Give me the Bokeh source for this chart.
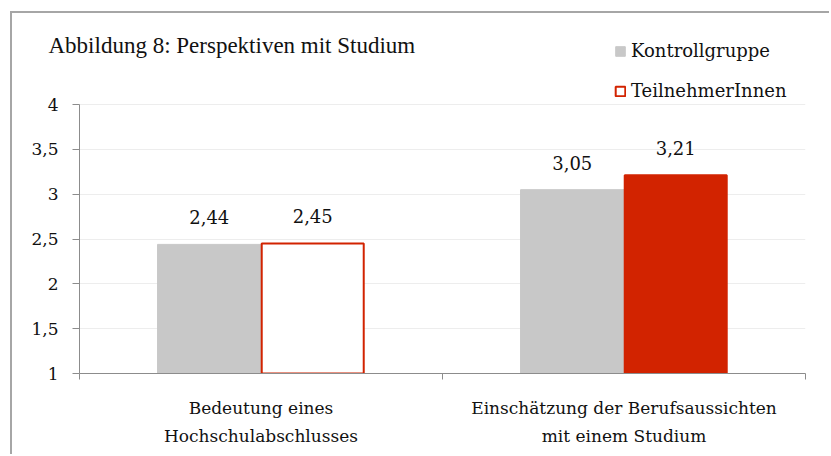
from bokeh.plotting import figure
from bokeh.models import (Range1d, FixedTicker, ColumnDataSource, LabelSet,
                          Legend, LegendItem)
from bokeh.core.properties import value
from bokeh.embed import file_html
from bokeh.resources import INLINE
import numpy as np

categories = ["Bedeutung eines\nHochschulabschlusses",
              "Einschätzung der Berufsaussichten\nmit einem Studium"]
kontroll = [2.44, 3.05]
teilnehmer = [2.45, 3.21]
series_names = ["Kontrollgruppe", "TeilnehmerInnen"]
y_ticks = [1, 1.5, 2, 2.5, 3, 3.5, 4]
y_tick_labels = ["1", "1,5", "2", "2,5", "3", "3,5", "4"]

TITLE_FONT = "'Liberation Serif'"
FONT = "DejaVu Serif"
GRAY = "#c8c8c8"
RED = "#d22300"
AXIS = "#8c8c8c"
TXT = "#111111"

def fmt(v):
    return f"{v:.2f}".replace(".", ",")

n = len(categories)
centers = np.arange(n) + 0.5
bw = 0.285

W, H = 819, 443
MB_L, MB_R, MB_T, MB_B = 67, 26, 7, 83
frame_h = H - MB_T - MB_B
axis_px = 269  # pixel height of the value axis 1..4
y_top = y_ticks[0] + (y_ticks[-1] - y_ticks[0]) * frame_h / axis_px

p = figure(width=W, height=H, output_backend="svg", toolbar_location=None,
           x_range=Range1d(0, n), y_range=Range1d(y_ticks[0], y_top),
           min_border_left=MB_L, min_border_right=MB_R, min_border_top=MB_T,
           min_border_bottom=MB_B,
           title="Abbildung 8: Perspektiven mit Studium")
p.styles = {"margin-left": "10px", "margin-top": "11px",
            "border-left": "2px solid #a6a6a6", "border-top": "2px solid #a6a6a6"}
p.outline_line_color = None
p.background_fill_color = "white"
p.border_fill_color = "white"

p.title.text_font = TITLE_FONT
p.title.text_font_size = "23px"
p.title.text_font_style = "normal"
p.title.text_color = TXT
p.title.align = "left"
p.title.offset = -31
p.title.standoff = -75

src_k = ColumnDataSource(dict(x=centers - bw / 2, top=kontroll,
                              lab=[fmt(v) for v in kontroll]))
teil_fill = ["white"] + [RED] * (n - 1)
src_t = ColumnDataSource(dict(x=centers + bw / 2, top=teilnehmer, fill=teil_fill,
                              lab=[fmt(v) for v in teilnehmer]))

r1 = p.vbar(x="x", top="top", bottom=y_ticks[0], width=bw, source=src_k,
            fill_color=GRAY, line_color=GRAY, line_width=1)
r2 = p.vbar(x="x", top="top", bottom=y_ticks[0], width=bw - 0.004, source=src_t,
            fill_color="fill", line_color=RED, line_width=2)

for src in (src_k, src_t):
    p.add_layout(LabelSet(x="x", y="top", text="lab", source=src, text_align="center",
                          text_baseline="bottom", y_offset=20,
                          text_font=value(FONT), text_font_size=value("18px"),
                          text_font_style=value("normal"), text_color=TXT))

yax = p.yaxis[0]
yax.ticker = FixedTicker(ticks=y_ticks)
yax.bounds = (y_ticks[0], y_ticks[-1])
yax.major_label_overrides = {t: l for t, l in zip(y_ticks, y_tick_labels)}
yax.major_tick_out = 7
yax.major_tick_in = 0
yax.minor_tick_out = 0
yax.minor_tick_in = 0
yax.major_label_standoff = 14
yax.axis_line_color = AXIS
yax.major_tick_line_color = AXIS
yax.major_label_text_font = FONT
yax.major_label_text_font_style = "normal"
yax.major_label_text_font_size = "17px"
yax.major_label_text_color = TXT

xax = p.xaxis[0]
xax.ticker = FixedTicker(ticks=list(centers), minor_ticks=list(range(n + 1)))
xax.major_label_overrides = {float(c): cat for c, cat in zip(centers, categories)}
xax.major_tick_out = 0
xax.major_tick_in = 0
xax.minor_tick_out = 6
xax.minor_tick_in = 0
xax.minor_tick_line_color = AXIS
xax.axis_line_color = AXIS
xax.major_label_standoff = 18
xax.major_label_text_font = FONT
xax.major_label_text_font_style = "normal"
xax.major_label_text_font_size = "17px"
xax.major_label_text_line_height = 1.4
xax.major_label_text_color = TXT

p.xgrid.visible = False
p.ygrid.ticker = FixedTicker(ticks=y_ticks)
p.ygrid.grid_line_color = "#ededed"

legend = Legend(items=[LegendItem(label=series_names[0], renderers=[r1], index=0),
                       LegendItem(label=series_names[1], renderers=[r2], index=0)],
                location=(535, 272), padding=0, margin=0, spacing=19,
                glyph_width=12, glyph_height=12, label_standoff=5,
                label_text_font=FONT, label_text_font_size="18px",
                label_text_font_style="normal",
                label_text_color=TXT,
                border_line_color=None, background_fill_alpha=0)
p.add_layout(legend, "center")

open("out.html", "w").write(file_html(p, INLINE))
